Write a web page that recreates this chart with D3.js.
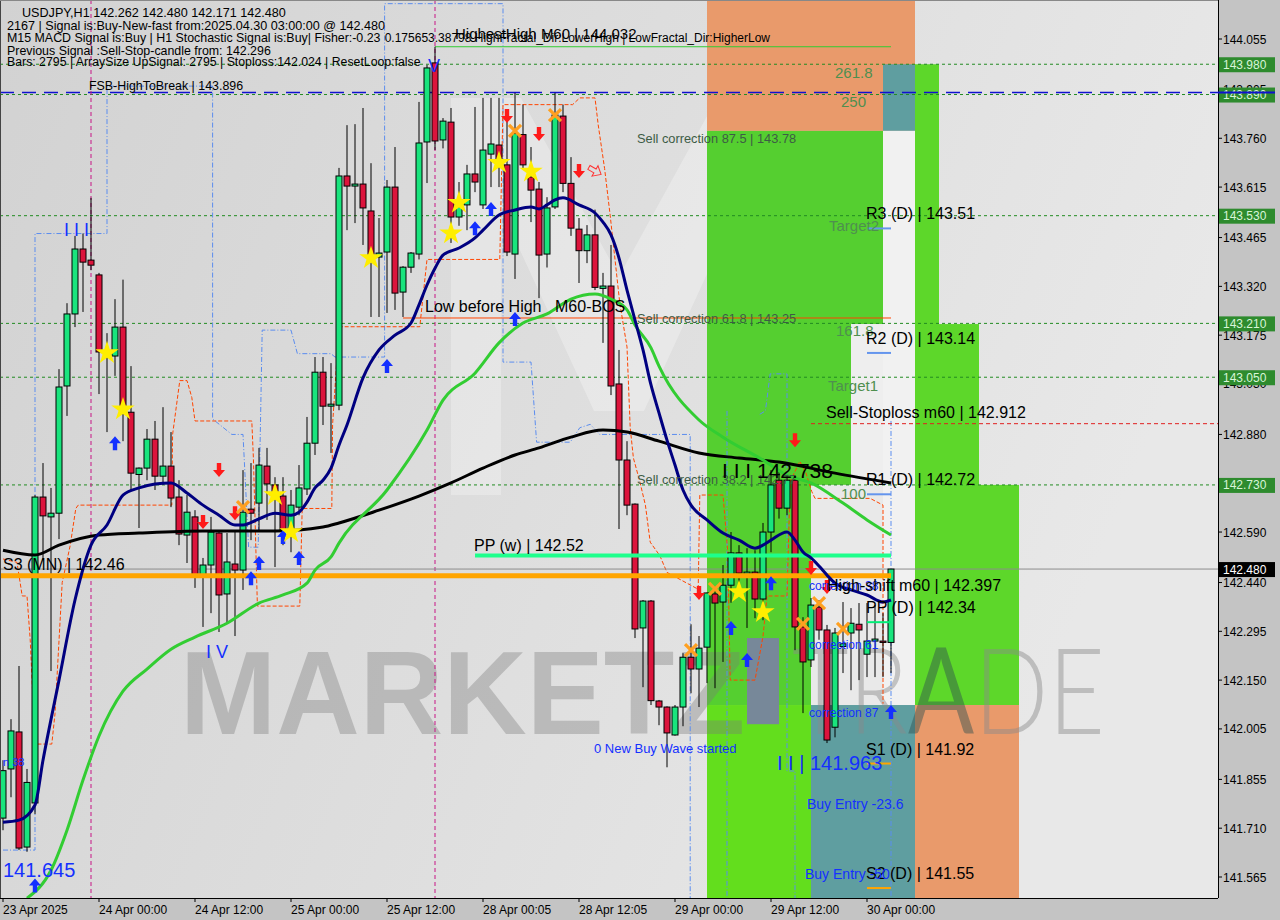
<!DOCTYPE html>
<html><head><meta charset="utf-8">
<script src="https://cdn.jsdelivr.net/npm/d3@7"></script>
<style>body{margin:0;background:#c4c4c4;overflow:hidden}svg{display:block}</style>
</head><body><svg id="chart" width="1280" height="920"></svg>
<script>
// ---------- DATA ----------
const timeLabels = ["23 Apr 2025","24 Apr 00:00","24 Apr 12:00","25 Apr 00:00","25 Apr 12:00","28 Apr 00:05","28 Apr 12:05","29 Apr 00:00","29 Apr 12:00","30 Apr 00:00"];
const timeLabelBars = [0,12,24,36,48,60,72,84,96,108];
const priceTicks = [144.055,143.905,143.760,143.615,143.465,143.320,143.175,143.030,142.880,142.735,142.590,142.440,142.295,142.150,142.005,141.855,141.710,141.565];
const levelBoxes = [143.980,143.890,143.530,143.210,143.050,142.730];
const currentPrice = 142.480;
// [open, high, low, close] per H1 bar
const candles = [
[141.740,141.912,141.704,141.881],[141.886,142.034,141.802,141.999],[141.996,142.192,141.645,141.651],[141.654,141.886,141.640,141.846],
[141.785,142.700,141.752,142.694],[142.694,142.795,142.507,142.638],[142.635,142.721,142.177,142.646],[142.646,143.074,142.569,143.021],
[143.024,143.270,142.935,143.238],[143.238,143.470,143.199,143.431],[143.431,143.477,143.244,143.392],[143.398,143.583,143.368,143.383],
[143.354,143.360,143.000,143.125],[143.115,143.181,142.887,143.125],[143.113,143.282,143.054,143.199],[143.199,143.340,142.860,142.952],
[142.946,143.083,142.715,142.765],[142.761,142.782,142.602,142.780],[142.780,142.896,142.744,142.866],[142.866,142.920,142.715,142.756],
[142.756,142.961,142.730,142.786],[142.786,142.887,142.664,142.691],[142.694,142.744,142.551,142.584],[142.581,142.700,142.498,142.649],
[142.635,142.655,142.424,142.462],[142.456,142.513,142.308,142.492],[142.492,142.635,142.349,142.590],[142.587,142.596,142.293,142.403],
[142.406,142.587,142.320,142.501],[142.495,142.596,142.281,142.477],[142.477,142.774,142.418,142.649],[142.658,142.795,142.566,142.646],
[142.676,142.840,142.596,142.789],[142.786,142.840,142.626,142.733],[142.730,142.753,142.486,142.706],[142.697,142.753,142.551,142.596],
[142.596,142.715,142.530,142.670],[142.664,142.789,142.640,142.721],[142.718,142.932,142.700,142.854],[142.854,143.110,142.819,143.065],
[143.065,143.110,142.908,142.964],[142.964,143.092,142.825,142.970],[142.967,143.672,142.952,143.648],[143.648,143.799,143.487,143.618],
[143.618,143.802,143.508,143.624],[143.624,143.850,143.443,143.553],[143.544,143.686,143.229,143.404],[143.407,143.523,143.229,143.419],
[143.422,143.636,143.241,143.615],[143.615,143.734,143.250,143.300],[143.303,143.380,143.229,143.377],[143.377,143.422,143.360,143.419],
[143.416,143.868,143.400,143.746],[143.749,143.978,143.627,143.969],[143.984,144.032,143.725,143.752],[143.755,143.820,143.730,143.811],
[143.808,143.850,143.449,143.526],[143.526,143.630,143.500,143.556],[143.562,143.681,143.487,143.654],[143.654,143.853,143.600,143.630],
[143.562,143.880,143.550,143.725],[143.713,143.880,143.615,143.743],[143.740,143.880,143.615,143.681],[143.681,143.834,143.410,143.422],
[143.416,143.895,143.342,143.774],[143.771,143.860,143.670,143.681],[143.645,143.734,143.511,143.606],[143.609,143.630,143.285,143.413],
[143.416,143.585,143.376,143.553],[143.556,143.895,143.550,143.829],[143.826,143.860,143.600,143.626],[143.626,143.704,143.470,143.493],
[143.490,143.523,143.330,143.426],[143.426,143.502,143.389,143.473],[143.473,143.548,143.309,143.317],[143.314,143.360,143.152,143.321],
[143.321,143.443,142.997,143.024],[143.030,143.131,142.599,142.804],[142.804,142.860,142.640,142.670],[142.673,142.675,142.275,142.302],
[142.305,142.388,142.129,142.385],[142.385,142.388,142.076,142.089],[142.088,142.091,142.016,142.070],[142.070,142.072,141.891,141.993],
[141.987,142.076,141.985,142.070],[142.070,142.230,142.013,142.218],[142.218,142.316,142.111,142.183],[142.183,142.281,142.070,142.245],
[142.248,142.410,142.141,142.409],[142.406,142.427,142.126,142.379],[142.382,142.492,142.204,142.432],[142.432,142.590,142.380,142.528],
[142.528,142.551,142.409,142.468],[142.465,142.542,142.305,142.471],[142.471,142.536,142.334,142.391],[142.391,142.617,142.328,142.590],
[142.590,142.774,142.530,142.730],[142.744,142.768,142.630,142.661],[142.661,142.760,142.640,142.744],[142.744,142.750,142.239,142.308],
[142.308,142.337,142.052,142.204],[142.210,142.394,142.189,142.373],[142.367,142.388,142.270,142.299],[142.299,142.314,141.963,141.972],
[142.010,142.305,141.980,142.290],[142.250,142.382,142.171,142.258],[142.290,142.364,142.120,142.319],[142.316,142.379,142.150,142.299],
[142.227,142.379,142.159,142.266],[142.266,142.373,142.159,142.272],[142.266,142.349,142.159,142.262],[142.262,142.480,142.171,142.480]
];
// moving averages: [bar, price]
const maFast = [[0,141.728],[2,141.734],[4,141.779],[5,141.912],[7,142.150],[9,142.388],[11,142.551],[13,142.611],[15,142.700],[17,142.721],[19,142.733],[21,142.736],[23,142.706],[25,142.670],[27,142.640],[29,142.611],[30,142.611],[32,142.629],[34,142.646],[36,142.640],[37,142.649],[38,142.679],[39,142.721],[40,142.744],[41,142.780],[42,142.848],[43,142.908],[45,143.048],[47,143.131],[49,143.175],[51,143.211],[52,143.265],[53,143.324],[54,143.374],[55,143.413],[57,143.434],[59,143.464],[60,143.487],[62,143.532],[64,143.547],[66,143.556],[67,143.550],[68,143.562],[69,143.577],[70,143.583],[72,143.562],[74,143.538],[75,143.511],[76,143.473],[77,143.404],[78,143.309],[79,143.220],[80,143.131],[81,143.027],[82,142.944],[83,142.863],[84,142.789],[85,142.715],[86,142.670],[88,142.626],[90,142.587],[92,142.566],[94,142.542],[95,142.551],[96,142.566],[98,142.590],[99,142.566],[100,142.531],[101,142.513],[102,142.489],[103,142.462],[104,142.438],[106,142.418],[108,142.403],[110,142.382],[111,142.388]];
const maSlow = [[3,141.502],[6,141.585],[8,141.704],[10,141.853],[12,141.984],[15,142.117],[18,142.183],[21,142.242],[24,142.278],[28,142.319],[32,142.379],[35,142.403],[38,142.438],[39,142.477],[41,142.516],[42,142.557],[48,142.715],[53,142.893],[55,142.982],[59,143.062],[62,143.152],[65,143.211],[68,143.238],[71,143.282],[74,143.297],[76,143.282],[78,143.250],[79,143.205],[81,143.137],[82,143.083],[87,142.923],[90,142.872],[95,142.804],[98,142.759],[101,142.736],[105,142.676],[108,142.626],[111,142.581]];
const maLong = [[0,142.536],[4,142.522],[7,142.551],[12,142.581],[17,142.587],[25,142.593],[34,142.593],[40,142.605],[42,142.617],[47,142.655],[52,142.697],[56,142.736],[60,142.780],[64,142.819],[67,142.840],[71,142.872],[75,142.893],[78,142.887],[82,142.860],[87,142.825],[92,142.810],[97,142.798],[104,142.765],[111,142.736]];
// signal markers: [bar, price]
const buyArrows = [[4,141.540],[14,142.854],[48,143.083],[31,142.453],[32,142.498],[35,142.575],[37,142.513],[59,143.493],[61,143.550],[64,143.223],[91,142.305],[93,142.210],[96,142.438],[111,142.055]];
const sellArrows = [[27,142.774],[25,142.620],[29,142.646],[63,143.826],[67,143.773],[72,143.663],[87,142.409],[99,142.863],[101,142.483],[103,142.427]];
const hollowSell = [[74,143.663]];
const stars = [[13,143.122],[15,142.955],[34,142.700],[36,142.590],[46,143.404],[56,143.478],[57,143.568],[62,143.687],[66,143.661],[92,142.412],[95,142.352]];
const crosses = [[30,142.664],[64,143.782],[69,143.829],[86,142.239],[89,142.421],[100,142.317],[102,142.379],[105,142.302]];
// zones: [barFrom, barTo, priceLow, priceHigh, fill]
const zones = [
 [88,114,143.782,144.300,"#e99a6b"],[110,114,143.782,143.980,"#5f9ea0"],
 [88,101,142.076,143.782,"#55cf30"],[88,101,141.400,142.076,"#63de1d"],
 [101,106,142.730,143.782,"#55cf30"],[106,110,143.208,143.782,"#55cf30"],
 [110,114,142.076,143.782,"#f1f1f1"],[106,110,142.730,143.208,"#eeeeee"],[101,110,142.076,142.730,"#e9e9e9"],
 [101,114,141.400,142.076,"#5f9ea0"],
 [114,117,142.730,143.980,"#5dd72a"],[117,122,142.730,143.208,"#5dd72a"],[114,127,142.076,142.730,"#5dd72a"],
 [114,127,141.400,142.076,"#e99a6b"],
 [93,97,142.019,142.275,"#778899"]
];
const dottedLevels = [143.980,143.890,143.530,143.210,143.050,142.730];
const fsbHigh = 143.896, s3mn = 142.46, ppw = 142.52, stopLoss = 142.912, highestHigh = 144.032, lowBeforeHigh = 143.226;
const dailyPivots = [{t:"R3 (D) | 143.51",p:143.51,c:"#6495ed"},{t:"R2 (D) | 143.14",p:143.14,c:"#6495ed"},{t:"R1 (D) | 142.72",p:142.72,c:"#6495ed"},{t:"PP (D) | 142.34",p:142.34,c:"#00ee76"},{t:"S1 (D) | 141.92",p:141.92,c:"#ffa500"},{t:"S2 (D) | 141.55",p:141.55,c:"#ffa500"}];
// channel step lines [bar, price]
const orangeChannel = [[0,142.51],[1.75,142.50],[2.4,142.40],[3,142.40],[3.4,142.27],[4,141.96],[6.1,141.96],[6.5,142.05],[7.4,142.44],[8.4,142.55],[9.1,142.66],[9.4,142.67],[21.1,142.67],[21.2,142.88],[22.1,143.04],[23,143.04],[23.6,142.99],[24,142.92],[31.1,142.92],[31.3,142.81],[31.8,142.37],[37.1,142.37],[37.4,142.66],[41.1,142.66],[41.2,142.91],[42,143.20],[52.1,143.20],[53,143.40],[62.1,143.40],[62.5,143.86],[71.2,143.86],[72.1,143.88],[74,143.88],[74.4,143.80],[75.2,143.67],[75.9,143.53],[77.1,143.27],[78,143.14],[78.4,142.90],[78.8,142.81],[79.6,142.74],[80.3,142.67],[80.9,142.56],[82.1,142.52],[83,142.47],[86.9,142.42],[87.1,142.70],[90,142.70],[90.6,142.53],[90.9,142.15],[94,142.15],[95,142.28],[95.5,142.40],[98,142.40],[98.4,142.74],[99.6,142.80],[100.3,142.77],[101.1,142.71],[101.5,142.69],[108.4,142.69],[110,142.67],[110,142.08]];
const blueChannel = [[0,141.645],[4,141.645],[4,143.477],[13,143.477],[13,143.915],[26.2,143.915],[26.2,142.926],[28.6,142.88],[30,142.88],[30.7,142.545],[31.9,142.545],[32.4,143.19],[36,143.19],[36.8,143.12],[41,143.12],[41.5,143.11],[47.7,143.11],[47.7,144.16],[62.5,144.16],[62.5,143.095],[66,143.095],[66.7,142.857],[70.9,142.857],[72.1,142.90],[73.4,142.91],[74.6,142.88],[85.9,142.88],[85.9,141.48]];
const blueVerticals = [[90.5,141.48,142.95],[111,141.48,142.92]];
const blueStep = [[94.6,142.94],[95.3,142.95],[95.9,143.06],[98,143.06],[98,141.88],[99,141.88],[99,141.48]];
const signalLines = [11,54];

// ---------- SCALES ----------
const W=1280,H=920, plotR=1218, plotB=898;
const x = d3.scaleLinear().domain([0,111]).range([3,891]);
const y = d3.scaleLinear().domain([141.565,144.055]).range([877,39]);
const svg = d3.select("#chart");
const defs = svg.append("defs");
const g1 = defs.append("linearGradient").attr("id","bg").attr("x1","0").attr("x2","1").attr("y1","0").attr("y2","0.3");
g1.append("stop").attr("offset","0").attr("stop-color","#d2d2d2");
g1.append("stop").attr("offset","0.55").attr("stop-color","#dedede");
g1.append("stop").attr("offset","1").attr("stop-color","#e8e8e8");
defs.append("clipPath").attr("id","plot").append("rect").attr("x",0).attr("y",0).attr("width",plotR).attr("height",plotB);

svg.append("rect").attr("width",W).attr("height",H).attr("fill","#c4c4c4");
const P = svg.append("g").attr("clip-path","url(#plot)");
P.append("rect").attr("width",plotR).attr("height",plotB).attr("fill","url(#bg)");
// background M logo (light)
const mx0=x(56), mx1=x(98);
P.append("path").attr("fill","#ffffff").attr("opacity",0.28)
 .attr("d",`M${mx0},${y(143.88)} L${mx0+70},${y(143.88)} L${(mx0+mx1)/2},${y(143.35)} L${mx1-70},${y(143.88)} L${mx1},${y(143.88)} L${mx1},${y(142.70)} L${mx1-50},${y(142.70)} L${mx1-50},${y(143.55)} L${(mx0+mx1)/2+25},${y(142.95)} L${(mx0+mx1)/2-25},${y(142.95)} L${mx0+50},${y(143.55)} L${mx0+50},${y(142.70)} L${mx0},${y(142.70)} Z`);

// zones
P.selectAll("rect.zone").data(zones).join("rect").attr("class","zone")
 .attr("x",d=>x(d[0])).attr("width",d=>x(d[1])-x(d[0]))
 .attr("y",d=>y(d[3])).attr("height",d=>y(d[2])-y(d[3])).attr("fill",d=>d[4]);

// watermark text
const wm = P.append("g");
wm.append("text").attr("x",180).attr("y",y(141.99)).attr("font-family","Liberation Sans, Arial").attr("font-weight","bold")
 .attr("font-size",118).attr("textLength",565).attr("lengthAdjust","spacingAndGlyphs").attr("fill","#7a7a7a").attr("opacity",0.36).text("MARKETZ");
const tr = wm.append("text").attr("x",792).attr("y",y(141.99)).attr("font-family","Lato, Liberation Sans").attr("font-weight","300")
 .attr("font-size",120).attr("textLength",313).attr("lengthAdjust","spacingAndGlyphs").attr("fill","#8a8a8a").attr("opacity",0.45);
tr.append("tspan").text("TR");
tr.append("tspan").attr("fill","#2f4f4f").attr("font-weight","400").text("A");
tr.append("tspan").text("DE");

// dotted levels
P.selectAll("line.dl").data(dottedLevels).join("line").attr("x1",0).attr("x2",plotR)
 .attr("y1",d=>y(d)).attr("y2",d=>y(d)).attr("stroke","#228b22").attr("stroke-dasharray","3,3").attr("stroke-width",1);
// FSB blue dashed
P.append("line").attr("x1",0).attr("x2",plotR).attr("y1",y(fsbHigh)).attr("y2",y(fsbHigh)).attr("stroke","#1010d0").attr("stroke-width",1.5).attr("stroke-dasharray","14,8");
// signal verticals
P.selectAll("line.sv").data(signalLines).join("line").attr("x1",d=>x(d)).attr("x2",d=>x(d)).attr("y1",0).attr("y2",plotB)
 .attr("stroke","#c71585").attr("stroke-dasharray","4,3").attr("stroke-width",1);
// blue channel
const lineFn = d3.line().x(d=>x(d[0])).y(d=>y(d[1]));
P.append("path").attr("d",lineFn(blueChannel)).attr("fill","none").attr("stroke","#5b8def").attr("stroke-dasharray","5,2,1,2").attr("stroke-width",1);
P.append("path").attr("d",lineFn(blueStep)).attr("fill","none").attr("stroke","#5b8def").attr("stroke-dasharray","5,2,1,2").attr("stroke-width",1);
P.selectAll("line.bv").data(blueVerticals).join("line").attr("x1",d=>x(d[0])).attr("x2",d=>x(d[0])).attr("y1",d=>y(d[2])).attr("y2",d=>y(d[1]))
 .attr("stroke","#5b8def").attr("stroke-dasharray","5,2,1,2");
// orange channel
P.append("path").attr("d",lineFn(orangeChannel)).attr("fill","none").attr("stroke","#ff4500").attr("stroke-dasharray","4,2").attr("stroke-width",1);
// lines
P.append("line").attr("x1",x(54)).attr("x2",x(111)).attr("y1",y(highestHigh)).attr("y2",y(highestHigh)).attr("stroke","#32cd32").attr("stroke-width",1);
P.append("line").attr("x1",x(50)).attr("x2",x(111)).attr("y1",y(lowBeforeHigh)).attr("y2",y(lowBeforeHigh)).attr("stroke","#ff4500").attr("stroke-width",1);
P.append("line").attr("x1",x(101)).attr("x2",plotR).attr("y1",y(stopLoss)).attr("y2",y(stopLoss)).attr("stroke","#e02020").attr("stroke-dasharray","4,3");
P.append("line").attr("x1",0).attr("x2",plotR).attr("y1",y(currentPrice)).attr("y2",y(currentPrice)).attr("stroke","#8c8c8c").attr("stroke-width",1);

// candles
const cg = P.append("g");
candles.forEach((c,i)=>{
  const [o,h,l,cl]=c, up = cl>=o, cx=x(i);
  cg.append("line").attr("x1",cx).attr("x2",cx).attr("y1",y(h)).attr("y2",y(l)).attr("stroke","#000").attr("stroke-width",1);
  const top=y(Math.max(o,cl)), bot=y(Math.min(o,cl));
  cg.append("rect").attr("x",cx-3).attr("width",6).attr("y",top).attr("height",Math.max(1,bot-top))
    .attr("fill",up?"#19e47d":"#dc143c").attr("stroke","#000").attr("stroke-width",1);
});

// pivot lines (over candles)
P.append("line").attr("x1",0).attr("x2",x(111)).attr("y1",y(s3mn)).attr("y2",y(s3mn)).attr("stroke","#ffa500").attr("stroke-width",5);
P.append("line").attr("x1",x(59)).attr("x2",x(111)).attr("y1",y(ppw)).attr("y2",y(ppw)).attr("stroke","#1eff8c").attr("stroke-width",4);
P.selectAll("line.dp").data(dailyPivots).join("line").attr("x1",x(108)).attr("x2",x(111)).attr("y1",d=>y(d.p)+6).attr("y2",d=>y(d.p)+6)
 .attr("stroke",d=>d.c).attr("stroke-width",2);

// MAs
const curve = d3.line().x(d=>x(d[0])).y(d=>y(d[1])).curve(d3.curveMonotoneX);
P.append("path").attr("d",curve(maLong)).attr("fill","none").attr("stroke","#000").attr("stroke-width",3);
P.append("path").attr("d",curve(maSlow)).attr("fill","none").attr("stroke","#32cd32").attr("stroke-width",3);
P.append("path").attr("d",curve(maFast)).attr("fill","none").attr("stroke","#000080").attr("stroke-width",3);

// markers
const upArrow=(cx,cy)=>`M${cx},${cy-7}L${cx+6},${cy}L${cx+2.2},${cy}L${cx+2.2},${cy+7}L${cx-2.2},${cy+7}L${cx-2.2},${cy}L${cx-6},${cy}Z`;
const dnArrow=(cx,cy)=>`M${cx},${cy+7}L${cx+6},${cy}L${cx+2.2},${cy}L${cx+2.2},${cy-7}L${cx-2.2},${cy-7}L${cx-2.2},${cy}L${cx-6},${cy}Z`;
P.selectAll("path.ba").data(buyArrows).join("path").attr("d",d=>upArrow(x(d[0]),y(d[1]))).attr("fill","#1430ff");
P.selectAll("path.sa").data(sellArrows).join("path").attr("d",d=>dnArrow(x(d[0]),y(d[1]))).attr("fill","#ff1a1a");
P.selectAll("path.hs").data(hollowSell).join("path").attr("d",d=>dnArrow(x(d[0]),y(d[1]))).attr("fill","none").attr("stroke","#ff3030")
 .attr("transform",d=>`rotate(-60,${x(d[0])},${y(d[1])})`);
P.selectAll("path.st").data(stars).join("path").attr("transform",d=>`translate(${x(d[0])},${y(d[1])})`)
 .attr("d",d3.symbol().type(d3.symbolStar).size(170)).attr("fill","#ffee00");
P.selectAll("path.cr").data(crosses).join("path").attr("transform",d=>`translate(${x(d[0])},${y(d[1])})`)
 .attr("d","M-6,-6L6,6M-6,6L6,-6").attr("stroke","#ffa020").attr("stroke-width",3.2);

// ---------- TEXT ----------
const T=(tx,ty,s,opts={})=>{const t=P.append("text").attr("x",tx).attr("y",ty).attr("font-family",opts.f||"Liberation Sans, Arial")
 .attr("font-size",opts.fs||12).attr("fill",opts.c||"#000").text(s); if(opts.w) t.attr("font-weight",opts.w); if(opts.a) t.attr("text-anchor",opts.a); if(opts.o) t.attr("opacity",opts.o); return t;};
// header
T(22,17,"USDJPY,H1  142.262 142.480 142.171 142.480",{fs:12.6});
T(7,29.5,"2167 | Signal is:Buy-New-fast from:2025.04.30 03:00:00 @ 142.480",{fs:12.6});
T(7,42,"M15 MACD Signal is:Buy | H1 Stochastic Signal is:Buy| Fisher:-0.23",{fs:12.4});
T(7,54.5,"Previous Signal :Sell-Stop-candle from: 142.296",{fs:12.4});
T(7,66,"Bars: 2795 | ArraySize UpSignal: 2795 | Stoploss:142.024 | ResetLoop:false",{fs:12.3});
T(770,42,"0.175653.38798 HighFractal_Dir:LowerHigh | LowFractal_Dir:HigherLow",{a:"end"});
T(455,39,"HighestHigh    M60 | 144.032",{fs:15});
T(89,90,"FSB-HighToBreak | 143.896",{fs:12.4});
T(428,72,"V",{fs:18,c:"#1430ff"});
// left labels
T(3,570,"S3 (MN) | 142.46",{fs:16});
T(474,551,"PP (w) | 142.52",{fs:16});
T(3,877,"141.645",{fs:20,c:"#1430ff"});
T(64,236,"I I I",{fs:18,c:"#1430ff"});
T(206,658,"I V",{fs:18,c:"#1430ff"});
T(3,766,"n 38",{fs:11,c:"#1430ff"});
T(425,312,"Low before High",{fs:16});
T(555,312,"M60-BOS",{fs:16});
T(594,753,"0 New Buy Wave started",{fs:13,c:"#1430ff"});
// corrections
T(637,143,"Sell correction 87.5 | 143.78",{fs:12.8,c:"#3d5c45"});
T(637,323,"Sell correction 61.8 | 143.25",{fs:12.8,c:"#3d5c45"});
T(637,484,"Sell correction 38.2 | 142.77",{fs:12.8,c:"#3d5c45"});
T(722,478,"I I I 142.738",{fs:21});
T(835,78,"261.8",{fs:15,c:"#4f8f4f"});
T(841,107,"250",{fs:15,c:"#4f8f4f"});
T(829,231,"Target2",{fs:15,c:"#4f8f4f"});
T(836,336,"161.8",{fs:15,c:"#4f8f4f"});
T(828,391,"Target1",{fs:15,c:"#4f8f4f"});
T(841,499,"100",{fs:15,c:"#4f8f4f"});
T(826,418,"Sell-Stoploss m60 | 142.912",{fs:16});
dailyPivots.forEach(d=>T(866,y(d.p)-3,d.t,{fs:16}));
T(809,590,"correction 38",{fs:12,c:"#1430ff"});
T(827,591,"High-shift m60 | 142.397",{fs:16});
T(809,649,"correction 61",{fs:12,c:"#1430ff"});
T(809,717,"correction 87",{fs:12,c:"#1430ff"});
T(777,770,"I I | 141.963",{fs:20,c:"#1430ff"});
T(807,809,"Buy Entry -23.6",{fs:14,c:"#1430ff"});
T(805,879,"Buy Entry -50",{fs:14,c:"#1430ff"});

// ---------- AXES ----------
svg.append("line").attr("x1",plotR+0.5).attr("x2",plotR+0.5).attr("y1",0).attr("y2",plotB).attr("stroke","#000");
svg.append("line").attr("x1",0).attr("x2",plotR).attr("y1",plotB+0.5).attr("y2",plotB+0.5).attr("stroke","#000");
svg.append("line").attr("x1",0.5).attr("x2",0.5).attr("y1",0).attr("y2",plotB).attr("stroke","#444");
svg.append("line").attr("x1",0).attr("x2",plotR).attr("y1",0.5).attr("y2",0.5).attr("stroke","#888");
const ya = svg.append("g");
priceTicks.forEach(p=>{
  ya.append("line").attr("x1",plotR).attr("x2",plotR+4).attr("y1",y(p)).attr("y2",y(p)).attr("stroke","#000");
  ya.append("text").attr("x",1223).attr("y",y(p)+4.5).attr("font-family","Liberation Sans, Arial").attr("font-size",12).attr("fill","#000").text(p.toFixed(3));
});
levelBoxes.forEach(p=>{
  ya.append("rect").attr("x",plotR+1).attr("y",y(p)-7).attr("width",56).attr("height",15).attr("fill","#2e8b2e");
  ya.append("text").attr("x",1223).attr("y",y(p)+4.5).attr("font-family","Liberation Sans, Arial").attr("font-size",12).attr("fill","#d8f5d8").text(p.toFixed(3));
});
ya.append("rect").attr("x",plotR+1).attr("y",y(currentPrice)-7).attr("width",56).attr("height",15).attr("fill","#000");
ya.append("text").attr("x",1223).attr("y",y(currentPrice)+4.5).attr("font-family","Liberation Sans, Arial").attr("font-size",12).attr("fill","#fff").text(currentPrice.toFixed(3));
ya.append("line").attr("x1",plotR).attr("x2",1275).attr("y1",y(fsbHigh)).attr("y2",y(fsbHigh)).attr("stroke","#1010d0").attr("stroke-width",2);

const xa = svg.append("g");
timeLabels.forEach((t,k)=>{
  const px=x(timeLabelBars[k]);
  xa.append("line").attr("x1",px).attr("x2",px).attr("y1",plotB).attr("y2",plotB+4).attr("stroke","#000");
  xa.append("text").attr("x",px).attr("y",914).attr("font-family","Liberation Sans, Arial").attr("font-size",12).attr("fill","#000").text(t);
});
</script></body></html>
